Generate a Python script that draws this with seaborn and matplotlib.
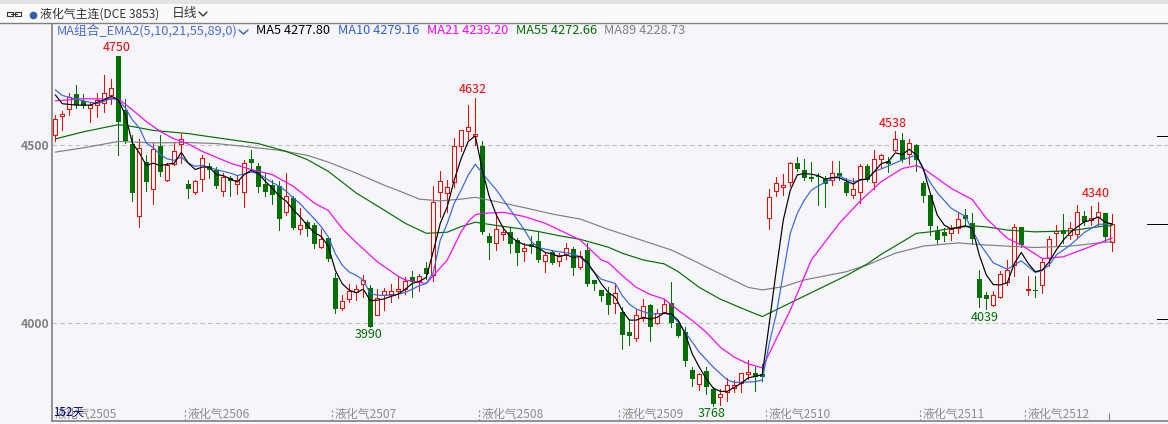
import numpy as np
import pandas as pd
import matplotlib
matplotlib.use("Agg")
import matplotlib.pyplot as plt
import seaborn as sns
from matplotlib.lines import Line2D
from matplotlib.patches import Rectangle
from matplotlib.transforms import blended_transform_factory

# ---- daily candles ----
opens = [4527,4581,4600,4643,4623,4604,4611,4618,4641,4750,
         4599,4504,4300,4452,4375,4498,4401,4448,4504,4391,
         4367,4404,4442,4431,4370,4407,4390,4368,4462,4442,
         4391,4388,4386,4312,4352,4263,4284,4274,4214,4239,
         4126,4042,4068,4087,4110,4098,4023,4079,4082,4091,
         4095,4128,4117,4154,4136,4367,4365,4397,4498,4539,
         4526,4498,4245,4224,4249,4256,4233,4203,4222,4230,
         4175,4200,4173,4192,4208,4156,4205,4121,4093,4084,
         4057,4032,3976,3958,4013,4051,4001,4032,4056,4000,
         3974,3868,3829,3865,3815,3791,3806,3818,3831,3858,
         3860,3857,4294,4370,4381,4397,4449,4429,4410,4414,
         4404,4403,4421,4397,4359,4369,4441,4397,4462,4455,
         4486,4514,4474,4500,4392,4359,4258,4255,4254,4266,
         4302,4280,4123,4078,4050,4072,4114,4163,4269,4092,
         4094,4107,4182,4254,4261,4248,4251,4300,4288,4298,
         4308,4228]
highs = [4585,4596,4646,4669,4643,4620,4646,4697,4686,4750,
         4630,4529,4517,4473,4505,4529,4449,4507,4532,4402,
         4403,4473,4449,4437,4421,4412,4412,4459,4485,4449,
         4421,4403,4398,4420,4356,4323,4290,4280,4263,4239,
         4140,4078,4110,4108,4136,4108,4095,4098,4109,4131,
         4128,4145,4138,4170,4385,4426,4402,4519,4541,4613,
         4632,4510,4254,4313,4271,4268,4240,4226,4245,4257,
         4198,4205,4198,4224,4214,4203,4224,4121,4093,4100,
         4110,4044,4011,4039,4067,4053,4039,4065,4114,4007,
         3988,3875,3859,3875,3819,3815,3845,3840,3860,3896,
         3876,3885,4376,4410,4418,4452,4466,4462,4453,4420,
         4414,4455,4456,4406,4406,4448,4448,4486,4476,4467,
         4538,4535,4516,4504,4400,4359,4272,4268,4275,4310,
         4319,4310,4149,4088,4090,4146,4177,4278,4271,4133,
         4133,4181,4245,4275,4306,4283,4331,4314,4329,4340,
         4308,4306]
lows = [4510,4543,4585,4603,4604,4566,4580,4593,4616,4471,
        4506,4342,4270,4370,4335,4412,4398,4445,4449,4352,
        4363,4370,4407,4379,4356,4356,4363,4326,4426,4367,
        4356,4335,4261,4303,4265,4251,4244,4211,4211,4175,
        4029,4037,4059,4065,4073,3990,4023,4037,4058,4070,
        4081,4074,4091,4124,4119,4299,4313,4383,4482,4517,
        4500,4250,4180,4204,4233,4196,4164,4175,4198,4170,
        4142,4166,4161,4180,4136,4152,4105,4093,4063,4025,
        4028,3927,3939,3949,4007,3950,3997,4030,3988,3960,
        3880,3824,3813,3801,3768,3770,3782,3805,3805,3843,
        3810,3838,4265,4357,4360,4385,4428,4401,4400,4331,
        4325,4387,4401,4359,4350,4338,4400,4375,4436,4425,
        4484,4453,4448,4428,4341,4247,4222,4231,4233,4254,
        4275,4222,4046,4039,4049,4070,4107,4133,4214,4078,
        4074,4085,4161,4219,4224,4235,4238,4275,4275,4275,
        4231,4203]
closes = [4573,4587,4634,4612,4609,4612,4626,4645,4660,4566,
          4510,4364,4492,4395,4489,4423,4445,4483,4516,4375,
          4398,4463,4431,4384,4410,4398,4402,4449,4449,4381,
          4367,4359,4293,4356,4267,4274,4265,4223,4235,4181,
          4040,4061,4089,4096,4120,3990,4071,4089,4089,4096,
          4117,4116,4131,4138,4341,4398,4381,4497,4541,4550,
          4530,4257,4226,4264,4256,4221,4196,4211,4214,4177,
          4191,4168,4192,4212,4154,4189,4110,4110,4077,4051,
          4083,3967,3964,4022,4047,3990,4027,4052,4000,3963,
          3894,3844,3856,3821,3773,3801,3825,3827,3860,3862,
          3849,3849,4353,4393,4387,4449,4433,4406,4404,4411,
          4390,4420,4413,4365,4375,4441,4401,4462,4472,4446,
          4518,4458,4507,4458,4356,4273,4233,4244,4264,4291,
          4292,4236,4071,4067,4080,4137,4148,4269,4219,4094,
          4090,4172,4235,4258,4251,4266,4311,4283,4294,4311,
          4241,4277]

# ---- moving averages ----
ma5 = [4641,4616,4614,4612,4612,4612,4620,4627,4637,4627,
       4585,4506,4478,4443,4449,4442,4446,4449,4479,4449,
       4431,4438,4438,4417,4414,4405,4396,4417,4429,4420,
       4398,4379,4356,4342,4318,4298,4274,4254,4243,4216,
       4148,4110,4092,4085,4095,4063,4064,4068,4075,4081,
       4095,4111,4117,4128,4201,4280,4327,4402,4463,4510,
       4526,4430,4355,4304,4266,4243,4229,4220,4217,4211,
       4198,4194,4186,4192,4184,4187,4170,4142,4110,4086,
       4072,4035,4008,4008,4016,4011,4016,4028,4025,4007,
       3969,3913,3876,3843,3817,3808,3808,3819,3831,3846,
       3850,3855,3999,4149,4289,4373,4416,4420,4418,4414,
       4404,4409,4408,4399,4390,4403,4404,4425,4448,4453,
       4478,4473,4488,4472,4434,4364,4303,4275,4264,4269,
       4273,4266,4191,4135,4108,4107,4113,4167,4198,4167,
       4144,4149,4172,4205,4233,4254,4270,4284,4289,4298,
       4283,4278]

ma10_idx = [0,1,2,4,6,7,8,9,10,11,12,13,14,15,16,17,18,19,20,21,23,25,26,27,28,29,30,31,32,33,34,35,36,
            37,38,39,40,41,42,43,44,45,46,47,48,49,50,51,52,53,54,55,56,57,58,59,60,61,62,63,64,65,66,67,68,
            69,71,74,75,77,78,80,81,82,83,85,87,88,89,90,92,94,96,97,100,101,102,103,104,105,106,107,108,109,
            111,112,113,114,116,117,119,121,123,124,125,126,128,130,131,132,133,134,135,136,138,140,141,142,143,145,147,149,151]
ma10_val = [4655,4639,4634,4624,4616,4623,4632,4627,4604,4571,4548,4506,4492,4473,4461,4457,4466,4449,4440,4443,4431,
            4421,4414,4419,4424,4420,4407,4395,4384,4370,4351,4335,4313,
            4293,4270,4242,4195,4162,4143,4134,4120,4083,4078,4078,4078,4081,4086,4095,4105,4111,4142,4233,4280,4337,4374,4416,4446,
            4421,4397,4374,4346,4318,4290,4262,4229,
            4212,4203,4194,4186,4142,4123,4111,4077,4053,4039,4025,4027,4023,4002,3974,3918,3876,3840,3833,3835,3840,3943,4025,4139,4252,4308,4345,4373,4385,
            4406,4414,4403,4397,4404,4425,4441,4458,4472,4430,4394,4366,4322,4300,4261,4224,4197,4169,4160,4151,4175,4142,4147,4163,4191,4219,4254,4277,4279]

ma21_idx = [0,4,8,9,11,13,15,17,19,21,25,28,31,34,37,39,41,43,46,49,50,53,54,56,58,59,60,61,64,67,70,73,75,78,79,81,83,85,87,89,91,93,95,97,99,101,
            102,105,108,112,115,118,121,123,124,126,128,131,133,136,138,141,144,147,151]
ma21_val = [4624,4630,4629,4630,4599,4566,4538,4517,4503,4482,4449,4431,4417,4384,4337,4316,4265,4226,4172,4131,4121,4111,4133,4177,4257,4285,4304,4308,4311,4299,4280,4252,4233,4177,4170,4133,4100,4080,4067,4036,4007,3974,3932,3904,3885,3874,
            3915,4036,4177,4280,4343,4397,4434,4442,4434,4406,4378,4347,4294,4238,4219,4181,4186,4208,4239]

ma55_idx = [0,4,9,11,14,19,25,29,33,36,39,43,47,50,53,56,58,60,63,66,69,72,75,79,81,84,87,89,92,95,98,101,106,113,116,118,121,123,125,128,131,133,136,140,145,150,151]
ma55_val = [4517,4537,4557,4552,4541,4532,4515,4504,4482,4459,4426,4365,4317,4280,4252,4255,4271,4283,4274,4266,4257,4245,4235,4213,4196,4177,4166,4144,4100,4067,4042,4018,4066,4133,4166,4193,4228,4252,4256,4266,4273,4270,4261,4256,4259,4273,4273]

ma89_idx = [0,4,9,14,19,23,27,32,36,39,43,47,49,52,55,58,60,63,67,71,75,79,84,88,91,95,99,101,104,107,113,116,120,124,129,133,140,145,151]
ma89_val = [4480,4492,4510,4506,4507,4504,4496,4485,4471,4452,4421,4387,4372,4348,4343,4348,4353,4341,4324,4306,4292,4263,4231,4205,4177,4138,4100,4093,4102,4121,4144,4163,4196,4216,4225,4219,4212,4216,4229]

# ---- labels ----
month_names = ["液化气2505","液化气2506","液化气2507","液化气2508","液化气2509","液化气2510","液化气2511","液化气2512"]
month_starts = [0,19,40,61,81,102,124,139]
y_ticks = [4000,4500]
peak_idx = [9,60,45,94,120,133,149]
peak_val = [4750,4632,3990,3768,4538,4039,4340]
peak_up = [True,True,False,False,True,False,True]
legend_names = ["MA5 4277.80","MA10 4279.16","MA21 4239.20","MA55 4272.66","MA89 4228.73"]
right_marks = [4525,4278,4011]

W, H = 1168, 424
BG = "#f5f5fa"
RED = "#ff0000"
GREEN = "#007000"
BLUE = "#3366e0"
PINK = "#ff00ff"
GREY = "#808080"

sns.set_theme(style="white", rc={"figure.facecolor": BG, "axes.facecolor": BG})
plt.rcParams["font.family"] = ["Noto Sans CJK SC", "DejaVu Sans"]

fig = plt.figure(figsize=(W / 100, H / 100), dpi=100)
# axes placed so one candle is 7 px wide
ax = fig.add_axes([52 / W, 1 - 421 / H, (W - 52) / W, (421 - 23) / H])
ax.set_xlim(-0.47, 158.96)
ax.set_ylim(3724.7, 4842.7)

for y in y_ticks:
    ax.axhline(y, color="#c0c0c0", lw=0.8, ls=(0, (4, 3)), zorder=1)

# candles
df = pd.DataFrame({"i": np.arange(len(opens)), "o": opens, "h": highs, "l": lows, "c": closes})
df["up"] = df["c"] >= df["o"]
up = df[df["up"]]
dn = df[~df["up"]]
ax.vlines(up["i"], up["l"], up["h"], color=RED, lw=0.72, zorder=2, antialiased=False)
ax.vlines(dn["i"], dn["l"], dn["h"], color=GREEN, lw=0.72, zorder=2, antialiased=False)
ax.bar(up["i"], (up["c"] - up["o"]).clip(lower=3), bottom=up["o"], width=0.6, facecolor=BG,
       edgecolor=RED, linewidth=0.72, zorder=3, antialiased=False)
ax.bar(dn["i"], (dn["o"] - dn["c"]).clip(lower=3), bottom=dn["c"], width=0.72, facecolor=GREEN,
       edgecolor="none", zorder=3, antialiased=False)

# moving averages
ma_lines = [
    (ma89_idx, ma89_val, GREY),
    (ma55_idx, ma55_val, GREEN),
    (ma21_idx, ma21_val, PINK),
    (ma10_idx, ma10_val, BLUE),
    (list(range(len(ma5))), ma5, "black"),
]
for idx, val, col in ma_lines:
    sns.lineplot(x=idx, y=val, ax=ax, color=col, linewidth=0.85, estimator=None, sort=False,
                 legend=False, zorder=4)

# peak / trough numbers
for i, v, is_up in zip(peak_idx, peak_val, peak_up):
    col = RED if is_up else GREEN
    off = 6 if is_up else -6
    ax.annotate(str(v), (i, v), xytext=(-1.5, off), textcoords="offset points", ha="center", va="center",
                color=col, fontsize=9, zorder=6)

ax.set_xlabel("")
ax.set_ylabel("")
ax.set_xticks([])
ax.set_yticks(y_ticks)
ax.set_yticklabels([str(y) for y in y_ticks], color=GREY, fontsize=8.8, fontweight="bold")
ax.tick_params(axis="y", length=0, pad=2)
for name, sp in ax.spines.items():
    sp.set_visible(name in ("left", "bottom"))
    sp.set_color(GREY)
    sp.set_linewidth(1.2)

# month labels along the bottom
tr = blended_transform_factory(ax.transData, ax.transAxes)
for name, start in zip(month_names, month_starts):
    ax.text(start - 0.1, 0.0176, name, transform=tr, color="#8c8c8c", fontsize=8.6, ha="left", va="center", zorder=5)
    if start > 0:
        ax.vlines(start - 0.5, 0.0, 0.03, transform=tr, color="#8c8c8c", lw=0.8, ls=(0, (2, 2)))
ax.vlines(len(opens) - 1 - 0.5, 0.0, 0.02, transform=tr, color=GREY, lw=0.8)
ax.text(0.001, 0.0225, "152天", transform=ax.transAxes, color="#000080", fontsize=8.4, ha="left", va="center", zorder=6)

# marks on the right edge
ax.hlines(right_marks, [157.4, 156.0, 157.4], 158.96, color="black", lw=0.72, zorder=5, antialiased=False)

# title strip
def fx(x):
    return x / W

def fy(y):
    return 1 - y / H

fig.add_artist(Rectangle((0, fy(23)), 1, 23 / H, transform=fig.transFigure, facecolor="#fafafa", edgecolor="none"))
fig.add_artist(Rectangle((0, fy(4)), 1, 4 / H, transform=fig.transFigure, facecolor="#e4e4e6", edgecolor="none"))
fig.add_artist(Line2D([0, 1], [fy(23), fy(23)], color=GREY, lw=1))
fig.add_artist(Rectangle((fx(7), fy(16)), 6 / W, 4 / H, transform=fig.transFigure, facecolor="none", edgecolor="#333333", lw=0.8))
fig.add_artist(Rectangle((fx(15), fy(16)), 6 / W, 4 / H, transform=fig.transFigure, facecolor="none", edgecolor="#333333", lw=0.8))
fig.add_artist(Line2D([fx(11), fx(17)], [fy(14), fy(14)], color="#333333", lw=0.8))
fig.add_artist(Line2D([fx(33)], [fy(14.5)], marker="o", ms=4.5, color="#3060a8"))
fig.text(fx(40), fy(14), "液化气主连(DCE 3853)", color="#333333", fontsize=8.6, ha="left", va="center")
fig.text(fx(172), fy(14), "日线", color="#333333", fontsize=9.2, ha="left", va="center")
fig.add_artist(Line2D([fx(199), fx(203), fx(207)], [fy(12), fy(16), fy(12)], color="#333333", lw=1))

# moving average legend row
fig.text(fx(57), fy(31), "MA组合_EMA2(5,10,21,55,89,0)", color="#4a6cd8", fontsize=9.2, ha="left", va="center")
fig.add_artist(Line2D([fx(239), fx(243.5), fx(248)], [fy(30), fy(34), fy(30)], color="#3060c0", lw=1))
for name, x0, col in zip(legend_names, [256, 338, 427, 516, 604], ["black", "#3060d0", PINK, GREEN, GREY]):
    fig.text(fx(x0), fy(31), name, color=col, fontsize=9.2, ha="left", va="center")

fig.savefig("out.png", dpi=100)
